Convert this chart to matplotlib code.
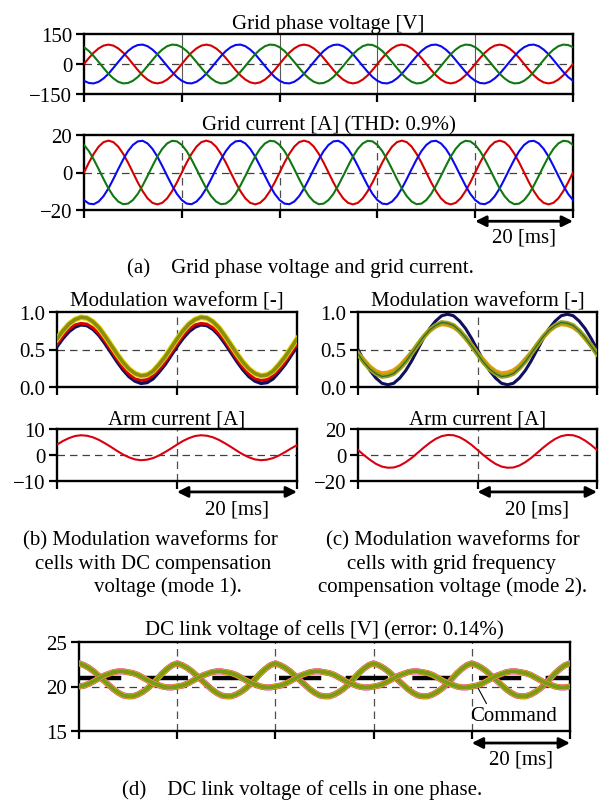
import matplotlib
matplotlib.use('Agg')
import matplotlib.pyplot as plt
import numpy as np

plt.rcParams['font.family'] = ['Liberation Serif', 'DejaVu Serif']
plt.rcParams['font.size'] = 15
plt.rcParams['axes.titlesize'] = 15
plt.rcParams['axes.unicode_minus'] = True

# ---------------- data (1 ms samples) ----------------
t_a = np.arange(0, 101)   # ms, panels (a) and (d)
t_b = np.arange(0, 41)    # ms, panels (b) and (c)

volt_red = [0, 30, 57, 78, 92, 97, 92, 78, 57, 30, 0, -30, -57, -78, -92, -97, -92, -78, -57, -30,
            0, 30, 57, 78, 92, 97, 92, 78, 57, 30, 0, -30, -57, -78, -92, -97, -92, -78, -57, -30,
            0, 30, 57, 78, 92, 97, 92, 78, 57, 30, 0, -30, -57, -78, -92, -97, -92, -78, -57, -30,
            0, 30, 57, 78, 92, 97, 92, 78, 57, 30, 0, -30, -57, -78, -92, -97, -92, -78, -57, -30,
            0, 30, 57, 78, 92, 97, 92, 78, 57, 30, 0, -30, -57, -78, -92, -97, -92, -78, -57, -30, 0]
volt_blue = [-84, -95, -97, -89, -72, -49, -20, 10, 39, 65, 84, 95, 97, 89, 72, 49, 20, -10, -39, -65,
             -84, -95, -97, -89, -72, -49, -20, 10, 39, 65, 84, 95, 97, 89, 72, 49, 20, -10, -39, -65,
             -84, -95, -97, -89, -72, -49, -20, 10, 39, 65, 84, 95, 97, 89, 72, 49, 20, -10, -39, -65,
             -84, -95, -97, -89, -72, -49, -20, 10, 39, 65, 84, 95, 97, 89, 72, 49, 20, -10, -39, -65,
             -84, -95, -97, -89, -72, -49, -20, 10, 39, 65, 84, 95, 97, 89, 72, 49, 20, -10, -39, -65, -84]
volt_green = [84, 65, 39, 10, -20, -49, -72, -89, -97, -95, -84, -65, -39, -10, 20, 49, 72, 89, 97, 95,
              84, 65, 39, 10, -20, -49, -72, -89, -97, -95, -84, -65, -39, -10, 20, 49, 72, 89, 97, 95,
              84, 65, 39, 10, -20, -49, -72, -89, -97, -95, -84, -65, -39, -10, 20, 49, 72, 89, 97, 95,
              84, 65, 39, 10, -20, -49, -72, -89, -97, -95, -84, -65, -39, -10, 20, 49, 72, 89, 97, 95,
              84, 65, 39, 10, -20, -49, -72, -89, -97, -95, -84, -65, -39, -10, 20, 49, 72, 89, 97, 95, 84]

curr_red = [0, 5.3, 10.0, 13.8, 16.2, 17.0, 16.2, 13.8, 10.0, 5.3, 0, -5.3, -10.0, -13.8, -16.2, -17.0, -16.2, -13.8, -10.0, -5.3,
            0, 5.3, 10.0, 13.8, 16.2, 17.0, 16.2, 13.8, 10.0, 5.3, 0, -5.3, -10.0, -13.8, -16.2, -17.0, -16.2, -13.8, -10.0, -5.3,
            0, 5.3, 10.0, 13.8, 16.2, 17.0, 16.2, 13.8, 10.0, 5.3, 0, -5.3, -10.0, -13.8, -16.2, -17.0, -16.2, -13.8, -10.0, -5.3,
            0, 5.3, 10.0, 13.8, 16.2, 17.0, 16.2, 13.8, 10.0, 5.3, 0, -5.3, -10.0, -13.8, -16.2, -17.0, -16.2, -13.8, -10.0, -5.3,
            0, 5.3, 10.0, 13.8, 16.2, 17.0, 16.2, 13.8, 10.0, 5.3, 0, -5.3, -10.0, -13.8, -16.2, -17.0, -16.2, -13.8, -10.0, -5.3, 0]
curr_blue = [-14.7, -16.6, -16.9, -15.5, -12.6, -8.5, -3.5, 1.8, 6.9, 11.4, 14.7, 16.6, 16.9, 15.5, 12.6, 8.5, 3.5, -1.8, -6.9, -11.4,
             -14.7, -16.6, -16.9, -15.5, -12.6, -8.5, -3.5, 1.8, 6.9, 11.4, 14.7, 16.6, 16.9, 15.5, 12.6, 8.5, 3.5, -1.8, -6.9, -11.4,
             -14.7, -16.6, -16.9, -15.5, -12.6, -8.5, -3.5, 1.8, 6.9, 11.4, 14.7, 16.6, 16.9, 15.5, 12.6, 8.5, 3.5, -1.8, -6.9, -11.4,
             -14.7, -16.6, -16.9, -15.5, -12.6, -8.5, -3.5, 1.8, 6.9, 11.4, 14.7, 16.6, 16.9, 15.5, 12.6, 8.5, 3.5, -1.8, -6.9, -11.4,
             -14.7, -16.6, -16.9, -15.5, -12.6, -8.5, -3.5, 1.8, 6.9, 11.4, 14.7, 16.6, 16.9, 15.5, 12.6, 8.5, 3.5, -1.8, -6.9, -11.4, -14.7]
curr_green = [14.7, 11.4, 6.9, 1.8, -3.5, -8.5, -12.6, -15.5, -16.9, -16.6, -14.7, -11.4, -6.9, -1.8, 3.5, 8.5, 12.6, 15.5, 16.9, 16.6,
              14.7, 11.4, 6.9, 1.8, -3.5, -8.5, -12.6, -15.5, -16.9, -16.6, -14.7, -11.4, -6.9, -1.8, 3.5, 8.5, 12.6, 15.5, 16.9, 16.6,
              14.7, 11.4, 6.9, 1.8, -3.5, -8.5, -12.6, -15.5, -16.9, -16.6, -14.7, -11.4, -6.9, -1.8, 3.5, 8.5, 12.6, 15.5, 16.9, 16.6,
              14.7, 11.4, 6.9, 1.8, -3.5, -8.5, -12.6, -15.5, -16.9, -16.6, -14.7, -11.4, -6.9, -1.8, 3.5, 8.5, 12.6, 15.5, 16.9, 16.6,
              14.7, 11.4, 6.9, 1.8, -3.5, -8.5, -12.6, -15.5, -16.9, -16.6, -14.7, -11.4, -6.9, -1.8, 3.5, 8.5, 12.6, 15.5, 16.9, 16.6, 14.7]

# (b) mode 1 modulation waveforms of cells
mod1_olive = [0.64, 0.75, 0.84, 0.90, 0.93, 0.92, 0.87, 0.79, 0.68, 0.56, 0.44, 0.33, 0.24, 0.18, 0.15, 0.16, 0.21, 0.30, 0.40, 0.52,
              0.64, 0.75, 0.84, 0.90, 0.93, 0.92, 0.87, 0.79, 0.68, 0.56, 0.44, 0.33, 0.24, 0.18, 0.15, 0.16, 0.21, 0.30, 0.40, 0.52, 0.64]
mod1_green = [0.62, 0.73, 0.82, 0.88, 0.90, 0.89, 0.84, 0.76, 0.66, 0.54, 0.42, 0.31, 0.22, 0.16, 0.14, 0.15, 0.20, 0.28, 0.38, 0.50,
              0.62, 0.73, 0.82, 0.88, 0.90, 0.89, 0.84, 0.76, 0.66, 0.54, 0.42, 0.31, 0.22, 0.16, 0.14, 0.15, 0.20, 0.28, 0.38, 0.50, 0.62]
mod1_red = [0.57, 0.68, 0.77, 0.83, 0.85, 0.84, 0.79, 0.71, 0.61, 0.49, 0.37, 0.26, 0.17, 0.11, 0.09, 0.10, 0.15, 0.23, 0.33, 0.45,
            0.57, 0.68, 0.77, 0.83, 0.85, 0.84, 0.79, 0.71, 0.61, 0.49, 0.37, 0.26, 0.17, 0.11, 0.09, 0.10, 0.15, 0.23, 0.33, 0.45, 0.57]
mod1_navy = [0.54, 0.65, 0.74, 0.80, 0.83, 0.82, 0.77, 0.69, 0.58, 0.46, 0.34, 0.23, 0.14, 0.08, 0.05, 0.06, 0.11, 0.20, 0.30, 0.42,
             0.54, 0.65, 0.74, 0.80, 0.83, 0.82, 0.77, 0.69, 0.58, 0.46, 0.34, 0.23, 0.14, 0.08, 0.05, 0.06, 0.11, 0.20, 0.30, 0.42, 0.54]
arm1 = [4.0, 5.4, 6.5, 7.3, 7.6, 7.4, 6.8, 5.8, 4.5, 3.1, 1.6, 0.2, -0.9, -1.7, -2.0, -1.8, -1.2, -0.2, 1.1, 2.5,
        4.0, 5.4, 6.5, 7.3, 7.6, 7.4, 6.8, 5.8, 4.5, 3.1, 1.6, 0.2, -0.9, -1.7, -2.0, -1.8, -1.2, -0.2, 1.1, 2.5, 3.8]

# (c) mode 2
mod2_navy = [0.50, 0.35, 0.22, 0.12, 0.05, 0.03, 0.05, 0.12, 0.22, 0.35, 0.50, 0.65, 0.78, 0.88, 0.95, 0.97, 0.95, 0.88, 0.78, 0.65,
             0.50, 0.35, 0.22, 0.12, 0.05, 0.03, 0.05, 0.12, 0.22, 0.35, 0.50, 0.65, 0.78, 0.88, 0.95, 0.97, 0.95, 0.88, 0.78, 0.65, 0.50]
mod2_olive = [0.44, 0.33, 0.24, 0.18, 0.14, 0.15, 0.18, 0.25, 0.34, 0.45, 0.56, 0.67, 0.76, 0.82, 0.86, 0.85, 0.82, 0.75, 0.66, 0.55,
              0.44, 0.33, 0.24, 0.18, 0.14, 0.15, 0.18, 0.25, 0.34, 0.45, 0.56, 0.67, 0.76, 0.82, 0.86, 0.85, 0.82, 0.75, 0.66, 0.55, 0.44]
mod2_orange = [0.45, 0.36, 0.27, 0.21, 0.18, 0.19, 0.22, 0.28, 0.37, 0.46, 0.57, 0.67, 0.75, 0.81, 0.84, 0.83, 0.80, 0.74, 0.65, 0.56,
               0.45, 0.36, 0.27, 0.21, 0.18, 0.19, 0.22, 0.28, 0.37, 0.46, 0.57, 0.67, 0.75, 0.81, 0.84, 0.83, 0.80, 0.74, 0.65, 0.56, 0.45]
arm2 = [3.9, -0.1, -3.7, -6.8, -8.9, -9.8, -9.6, -8.1, -5.5, -2.2, 1.7, 5.7, 9.3, 12.4, 14.5, 15.4, 15.2, 13.7, 11.1, 7.8,
        3.9, -0.1, -3.7, -6.8, -8.9, -9.8, -9.6, -8.1, -5.5, -2.2, 1.7, 5.7, 9.3, 12.4, 14.5, 15.4, 15.2, 13.7, 11.1, 7.8, 3.9]

# (d) DC link voltages: two groups of cells + command
dc_group_a = [22.6, 22.4, 22.1, 21.7, 21.2, 20.7, 20.2, 19.7, 19.3, 19.0, 18.9, 18.9, 19.1, 19.4, 19.8, 20.3, 20.9, 21.5, 22.0, 22.4,
              22.6, 22.4, 22.1, 21.7, 21.2, 20.7, 20.2, 19.7, 19.3, 19.0, 18.9, 18.9, 19.1, 19.4, 19.8, 20.3, 20.9, 21.5, 22.0, 22.4,
              22.6, 22.4, 22.1, 21.7, 21.2, 20.7, 20.2, 19.7, 19.3, 19.0, 18.9, 18.9, 19.1, 19.4, 19.8, 20.3, 20.9, 21.5, 22.0, 22.4,
              22.6, 22.4, 22.1, 21.7, 21.2, 20.7, 20.2, 19.7, 19.3, 19.0, 18.9, 18.9, 19.1, 19.4, 19.8, 20.3, 20.9, 21.5, 22.0, 22.4,
              22.6, 22.4, 22.1, 21.7, 21.2, 20.7, 20.2, 19.7, 19.3, 19.0, 18.9, 18.9, 19.1, 19.4, 19.8, 20.3, 20.9, 21.5, 22.0, 22.4, 22.6]
dc_group_b = [20.0, 20.1, 20.3, 20.6, 20.9, 21.2, 21.4, 21.6, 21.7, 21.7, 21.6, 21.5, 21.3, 21.0, 20.7, 20.4, 20.2, 20.0, 19.9, 19.9,
              20.0, 20.1, 20.3, 20.6, 20.9, 21.2, 21.4, 21.6, 21.7, 21.7, 21.6, 21.5, 21.3, 21.0, 20.7, 20.4, 20.2, 20.0, 19.9, 19.9,
              20.0, 20.1, 20.3, 20.6, 20.9, 21.2, 21.4, 21.6, 21.7, 21.7, 21.6, 21.5, 21.3, 21.0, 20.7, 20.4, 20.2, 20.0, 19.9, 19.9,
              20.0, 20.1, 20.3, 20.6, 20.9, 21.2, 21.4, 21.6, 21.7, 21.7, 21.6, 21.5, 21.3, 21.0, 20.7, 20.4, 20.2, 20.0, 19.9, 19.9,
              20.0, 20.1, 20.3, 20.6, 20.9, 21.2, 21.4, 21.6, 21.7, 21.7, 21.6, 21.5, 21.3, 21.0, 20.7, 20.4, 20.2, 20.0, 19.9, 19.9, 20.0]
dc_command = 20.9

# tick values / labels
yt_volt = [-150, 0, 150]
yl_volt = ['\u2212150', '0', '150']
yt_curr = [-20, 0, 20]
yl_curr = ['\u221220', '0', '20']
yt_mod = [0.0, 0.5, 1.0]
yl_mod = ['0.0', '0.5', '1.0']
yt_arm1 = [-10, 0, 10]
yl_arm1 = ['\u221210', '0', '10']
yt_arm2 = [-20, 0, 20]
yl_arm2 = ['\u221220', '0', '20']
yt_dc = [15, 20, 25]
yl_dc = ['15', '20', '25']
scale_label = '20 [ms]'

# ---------------- figure ----------------
W, H = 600, 803
fig = plt.figure(figsize=(W / 100, H / 100), dpi=100)


def add_ax(x0, x1, y0, y1):
    return fig.add_axes([x0 / W, 1 - y1 / H, (x1 - x0) / W, (y1 - y0) / H])


def style(ax, tmax, yt, yl, mid, grid_ls='--'):
    ax.set_xlim(0, tmax)
    ax.set_ylim(yt[0], yt[-1])
    ax.set_xticks(np.arange(0, tmax + 1, 20))
    ax.set_xticklabels([])
    ax.set_yticks(yt)
    ax.set_yticklabels(yl)
    ax.tick_params(axis='x', direction='out', length=6, width=1.6)
    ax.tick_params(axis='y', direction='out', length=5.5, width=1.6, pad=3)
    for s in ax.spines.values():
        s.set_linewidth(1.7)
    for xv in np.arange(20, tmax, 20):
        if grid_ls == '-':
            ax.axvline(xv, color='0.35', lw=0.8, ls='-', zorder=1)
        else:
            ax.axvline(xv, color='0.3', lw=0.9, ls=(0, (6, 4)), zorder=1)
    ax.axhline(mid, color='0.25', lw=0.9, ls=(0, (6, 4)), zorder=1)


def scale_arrow(ax, x0, x1, y_arrow, y_text):
    tr = ax.get_xaxis_transform()
    ax.annotate('', xy=(x1, y_arrow), xytext=(x0, y_arrow), xycoords=tr, textcoords=tr,
                arrowprops=dict(arrowstyle='<|-|>', color='k', lw=2.0, mutation_scale=16,
                                shrinkA=0, shrinkB=0), annotation_clip=False)
    ax.text((x0 + x1) / 2, y_text, scale_label, transform=tr, ha='center', va='center')


# (a) grid phase voltage
a1 = add_ax(84, 573, 35, 95)
a1.plot(t_a, volt_red, color='#d40000', lw=1.5, zorder=3)
a1.plot(t_a, volt_blue, color='#0a0aee', lw=1.5, zorder=3)
a1.plot(t_a, volt_green, color='#117711', lw=1.5, zorder=3)
style(a1, 100, yt_volt, yl_volt, 0, grid_ls='-')
a1.set_title('Grid phase voltage [V]', pad=4)

a2 = add_ax(84, 573, 136, 211)
a2.plot(t_a, curr_red, color='#d40000', lw=1.5, zorder=3)
a2.plot(t_a, curr_blue, color='#0a0aee', lw=1.5, zorder=3)
a2.plot(t_a, curr_green, color='#117711', lw=1.5, zorder=3)
style(a2, 100, yt_curr, yl_curr, 0)
a2.set_title('Grid current [A] (THD: 0.9%)', pad=4)
scale_arrow(a2, 80, 100, -0.15, -0.36)

fig.text(300 / W, 1 - 268 / H, '(a)    Grid phase voltage and grid current.', ha='center', va='center')

# (b) mode 1
b1 = add_ax(57, 297, 313, 388)
b1.plot(t_b, mod1_navy, color='#10105e', lw=2.6, zorder=3)
b1.plot(t_b, mod1_red, color='#e00000', lw=2.0, zorder=3)
b1.plot(t_b, mod1_green, color='#f4f4a0', lw=1.2, zorder=3)
b1.plot(t_b, mod1_olive, color='#e2d800', lw=4.0, zorder=3)
b1.plot(t_b, mod1_olive, color='#8c8c10', lw=2.6, zorder=3)
style(b1, 40, yt_mod, yl_mod, 0.5)
b1.set_title('Modulation waveform [-]', pad=5)

b2 = add_ax(57, 297, 430, 482)
b2.plot(t_b, arm1, color='#d80010', lw=1.5, zorder=3)
style(b2, 40, yt_arm1, yl_arm1, 0)
b2.set_title('Arm current [A]', pad=4)
scale_arrow(b2, 20, 40, -0.21, -0.54)

for txt, px, py in [('(b) Modulation waveforms for', 150, 541), ('cells with DC compensation', 153, 564),
                    ('voltage (mode 1).', 168, 587)]:
    fig.text(px / W, 1 - py / H, txt, ha='center', va='center')

# (c) mode 2
c1 = add_ax(358, 597, 313, 388)
c1.plot(t_b, mod2_navy, color='#10105e', lw=2.2, zorder=3)
c1.plot(t_b, mod2_orange, color='#e89a10', lw=3.2, zorder=3)
c1.plot(t_b, mod2_olive, color='#a0a010', lw=3.4, zorder=3)
c1.plot(t_b, mod2_olive, color='#2a6a3a', lw=0.9, zorder=3)
style(c1, 40, yt_mod, yl_mod, 0.5)
c1.set_title('Modulation waveform [-]', pad=5)

c2 = add_ax(358, 597, 430, 482)
c2.plot(t_b, arm2, color='#d80010', lw=1.5, zorder=3)
style(c2, 40, yt_arm2, yl_arm2, 0)
c2.set_title('Arm current [A]', pad=4)
scale_arrow(c2, 20, 40, -0.21, -0.54)

for txt, px, py in [('(c) Modulation waveforms for', 453, 541), ('cells with grid frequency', 451, 564),
                    ('compensation voltage (mode 2).', 453, 587)]:
    fig.text(px / W, 1 - py / H, txt, ha='center', va='center')

# (d) DC link voltages
d = add_ax(79, 570, 643, 732)
d.axhline(dc_command, color='k', lw=3.2, ls=(0, (9.5, 5.5)), zorder=2)
for grp in (dc_group_a, dc_group_b):
    d.plot(t_a, grp, color='#e0208a', lw=4.4, zorder=3)
    d.plot(t_a, grp, color='#e8c800', lw=3.8, zorder=3)
    d.plot(t_a, grp, color='#7c9a18', lw=3.0, zorder=3)
style(d, 100, yt_dc, yl_dc, 20)
d.set_title('DC link voltage of cells [V] (error: 0.14%)', pad=5.5)
d.annotate('Command', xy=(81.3, 19.8), xytext=(88.6, 16.7), ha='center', va='center',
           arrowprops=dict(arrowstyle='-', lw=0.8, color='k', relpos=(0.2, 1.0),
                           shrinkA=0, shrinkB=0), zorder=5)
scale_arrow(d, 80, 100, -0.135, -0.32)

fig.text(302 / W, 1 - 790 / H, '(d)    DC link voltage of cells in one phase.', ha='center', va='center')

fig.savefig('out.png', dpi=100)
